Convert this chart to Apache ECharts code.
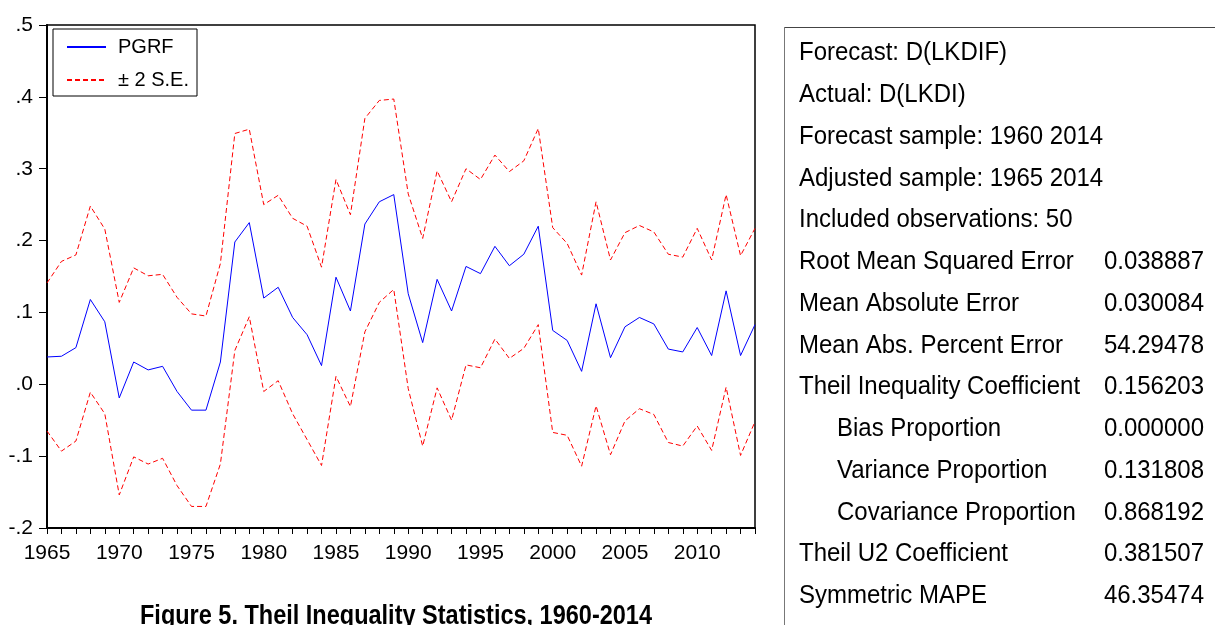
<!DOCTYPE html>
<html><head><meta charset="utf-8">
<script src="https://cdn.jsdelivr.net/npm/echarts@6/dist/echarts.min.js"></script>
<style>html,body{margin:0;padding:0;background:#fff}#c{width:1215px;height:625px}</style>
</head><body><div id="c"></div>
<script>
const years = [1965,1966,1967,1968,1969,1970,1971,1972,1973,1974,1975,1976,1977,1978,1979,
  1980,1981,1982,1983,1984,1985,1986,1987,1988,1989,1990,1991,1992,1993,1994,1995,1996,
  1997,1998,1999,2000,2001,2002,2003,2004,2005,2006,2007,2008,2009,2010,2011,2012,2013,2014];
const pgrf = [0.038,0.039,0.051,0.118,0.087,-0.019,0.031,0.020,0.025,-0.010,-0.036,-0.036,0.031,0.198,0.225,
  0.120,0.135,0.093,0.069,0.026,0.149,0.102,0.223,0.254,0.264,0.126,0.058,0.146,0.102,0.164,0.154,0.192,
  0.165,0.181,0.220,0.075,0.061,0.018,0.112,0.037,0.080,0.093,0.084,0.049,0.045,0.079,0.040,0.130,0.040,0.083];
const upperSE = [0.141,0.171,0.180,0.248,0.216,0.114,0.162,0.151,0.153,0.121,0.098,0.095,0.168,0.349,0.355,
  0.250,0.263,0.231,0.220,0.163,0.285,0.236,0.370,0.395,0.397,0.265,0.203,0.297,0.254,0.300,0.285,0.319,
  0.296,0.311,0.356,0.218,0.196,0.152,0.254,0.173,0.211,0.221,0.212,0.181,0.177,0.217,0.173,0.264,0.179,0.217];
const lowerSE = [-0.065,-0.093,-0.079,-0.011,-0.041,-0.154,-0.101,-0.111,-0.103,-0.141,-0.170,-0.170,-0.111,0.047,0.094,
  -0.010,0.005,-0.041,-0.077,-0.113,0.011,-0.031,0.073,0.114,0.132,-0.006,-0.086,-0.005,-0.050,0.027,0.023,0.063,
  0.036,0.050,0.083,-0.067,-0.071,-0.114,-0.030,-0.098,-0.051,-0.034,-0.042,-0.081,-0.086,-0.058,-0.092,-0.004,-0.099,-0.052];
const seriesNames = ['PGRF', '\u00b1 2 S.E.'];
const statLabels = ['Forecast: D(LKDIF)','Actual: D(LKDI)','Forecast sample: 1960 2014','Adjusted sample: 1965 2014',
  'Included observations: 50','Root Mean Squared Error','Mean Absolute Error','Mean Abs. Percent Error',
  'Theil Inequality Coefficient','Bias Proportion','Variance Proportion','Covariance Proportion',
  'Theil U2 Coefficient','Symmetric MAPE'];
const statValues = ['','','','','','0.038887','0.030084','54.29478','0.156203','0.000000','0.131808','0.868192','0.381507','46.35474'];
const statIndented = [false,false,false,false,false,false,false,false,false,true,true,true,false,false];
const captionText = 'Figure 5. Theil Inequality Statistics, 1960-2014';

const FONT = "'Liberation Sans', Arial, sans-serif";

const chart = echarts.init(document.getElementById('c'), null, {renderer: 'canvas'});

const graphics = [];
graphics.push({type:'line', shape:{x1:784, y1:27.5, x2:1215, y2:27.5}, style:{stroke:'#444', lineWidth:1}, silent:true});
graphics.push({type:'line', shape:{x1:784.5, y1:27, x2:784.5, y2:625}, style:{stroke:'#777', lineWidth:1}, silent:true});
statLabels.forEach((lab, i) => {
  const y = 53 + 41.75 * i;
  graphics.push({type:'text', x: statIndented[i] ? 837 : 799, y: y, scaleY: 1.1,
    style:{text: lab, fontSize: 24, fontFamily: FONT, fill:'#000', align:'left', verticalAlign:'middle'}});
  if (statValues[i]) {
    graphics.push({type:'text', x: 1204, y: y, scaleY: 1.1,
      style:{text: statValues[i], fontSize: 24, fontFamily: FONT, fill:'#000', align:'right', verticalAlign:'middle'}});
  }
});
graphics.push({type:'text', x: 396, y: 616.5, scaleY: 1.15,
  style:{text: captionText, fontSize: 23.5, fontWeight:'bold', fontFamily: FONT, fill:'#000', align:'center', verticalAlign:'middle'}});

const toPairs = arr => years.map((yr, i) => [yr, arr[i]]);

chart.setOption({
  animation: false,
  backgroundColor: '#fff',
  grid: {left: 47, right: 460, top: 25, bottom: 97, show: true, borderColor: '#000', borderWidth: 1.5, containLabel: false},
  legend: {
    data: seriesNames, orient: 'vertical', left: 53, top: 29,
    borderColor: '#000', borderWidth: 1, padding: [8, 8, 6, 13],
    itemWidth: 39, itemHeight: 20, itemGap: 13,
    itemStyle: {color: 'rgba(0,0,0,0)', borderWidth: 0, opacity: 0},
    textStyle: {fontSize: 20, fontFamily: FONT, color: '#000', padding: [0, 0, 0, 7], lineHeight: 20},
    selectedMode: false
  },
  xAxis: {
    type: 'value', min: 1965, max: 2014, interval: 1,
    axisLine: {show: true, onZero: false, lineStyle: {color: '#000', width: 2}},
    axisTick: {show: true, length: 6, lineStyle: {color: '#000', width: 1}},
    axisLabel: {formatter: v => (v % 5 === 0 ? String(v) : ''), fontSize: 21, fontFamily: FONT, color: '#000', margin: 15, hideOverlap: false},
    splitLine: {show: false}
  },
  yAxis: {
    type: 'value', min: -0.2, max: 0.5, interval: 0.1,
    axisLine: {show: true, onZero: false, lineStyle: {color: '#000', width: 2}},
    axisTick: {show: true, length: 8, lineStyle: {color: '#000', width: 1}},
    axisLabel: {formatter: v => v.toFixed(1).replace('0.', '.'), fontSize: 21, fontFamily: FONT, color: '#000', margin: 14, padding: [0, 0, 10, 0]},
    splitLine: {show: false}
  },
  series: [
    {type: 'line', name: seriesNames[0], data: toPairs(pgrf), symbol: 'none', lineStyle: {color: '#0000ff', width: 1}, itemStyle: {color: '#0000ff'}, z: 3},
    {type: 'line', name: seriesNames[1], data: toPairs(upperSE), symbol: 'none', lineStyle: {color: '#ff0000', width: 1, type: [5, 3]}, itemStyle: {color: '#ff0000'}},
    {type: 'line', name: seriesNames[1], data: toPairs(lowerSE), symbol: 'none', lineStyle: {color: '#ff0000', width: 1, type: [5, 3]}, itemStyle: {color: '#ff0000'}}
  ],
  graphic: graphics
});
</script>
</body></html>
